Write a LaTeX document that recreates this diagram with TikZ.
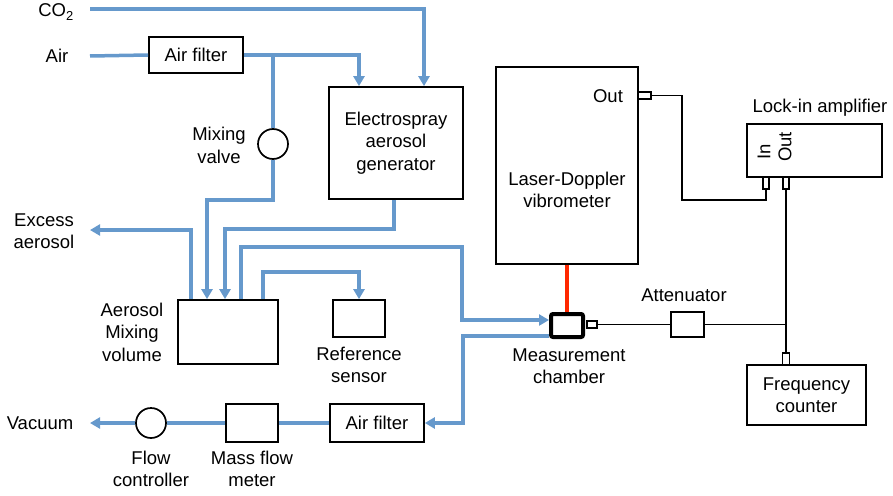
\documentclass[tikz,border=0pt]{standalone}
\usepackage{fontspec}
\setmainfont{Liberation Sans}
\usetikzlibrary{arrows.meta}
\definecolor{pipeblue}{RGB}{102,153,204}
\definecolor{laserred}{RGB}{255,40,0}
\tikzset{
  box/.style={draw, line width=1.7pt, inner sep=0pt, align=center},
  lbl/.style={align=center, inner sep=0pt},
  valve/.style={draw, circle, line width=1.7pt, minimum size=30pt, inner sep=0pt},
  port/.style={draw, line width=1.2pt, fill=white, inner sep=0pt},
  pipe/.style={pipeblue, line width=3.5pt},
  flow/.style={pipe, -{Triangle[length=10pt,width=11pt]}},
  sig/.style={line width=1.6pt},
  laser/.style={laserred, line width=3.5pt}
}
\begin{document}
\begin{tikzpicture}[x=1pt,y=-1pt,font=\fontsize{18.5}{22.5}\selectfont]
  \useasboundingbox (0,0) rectangle (893,495);
  % gas side
  \node[lbl] (co2) at (56,12) {CO\textsubscript{2}};
  \coordinate (co2src) at (90,9);
  \node[lbl] (air) at (57,56) {Air};
  \coordinate (airsrc) at (90,56);
  \node[box, minimum width=94pt, minimum height=36pt] (filtin) at (196,55) {Air filter};
  \node[box, minimum width=134pt, minimum height=112pt] (esg) at (396,143) {Electrospray\\aerosol\\generator};
  \node[valve] (mixv) at (273,144) {};
  \node[lbl] (mixvlbl) at (219,145.5) {Mixing\\valve};
  \node[box, minimum width=100pt, minimum height=64pt] (mixvol) at (228,332) {};
  \node[lbl] (mixvollbl) at (132,332) {Aerosol\\Mixing\\volume};
  \node[box, minimum width=52pt, minimum height=37pt] (refs) at (359,318.5) {};
  \node[lbl] (refslbl) at (359,365) {Reference\\sensor};
  \coordinate (excess) at (90,230);
  \node[lbl] (excesslbl) at (44,231) {Excess\\aerosol};
  \node[draw, line width=4pt, rounded corners=2pt, minimum width=32pt, minimum height=23pt, inner sep=0pt] (chamb) at (567,325.5) {};
  \node[lbl] (chamblbl) at (569,366) {Measurement\\chamber};
  \node[box, minimum width=94pt, minimum height=38pt] (filtout) at (377,423) {Air filter};
  \node[box, minimum width=52pt, minimum height=38pt] (mfm) at (252,423) {};
  \node[lbl] (mfmlbl) at (252,469) {Mass flow\\meter};
  \node[valve] (fc) at (151,423) {};
  \node[lbl] (fclbl) at (151,469) {Flow\\controller};
  \coordinate (vac) at (90,423);
  \node[lbl] (vaclbl) at (40,423) {Vacuum};
  \coordinate (bendA) at (462,247);
  % pipes
  \draw[flow] (co2src) -| ([xshift=28pt]esg.north);
  \draw[pipe] (airsrc) -- (filtin.west);
  \draw[flow] (filtin.east) -| ([xshift=-37pt]esg.north);
  \draw[pipe] (filtin.east -| mixv.north) -- (mixv.north);
  \draw[flow] (mixv.south) -- ++(0,40) -| ([xshift=-21pt]mixvol.north);
  \draw[flow] ([xshift=-2pt]esg.south) -- ++(0,29) -| ([xshift=-3pt]mixvol.north);
  \draw[flow] ([xshift=-37pt]mixvol.north) |- (excess);
  \draw[flow] ([xshift=13pt]mixvol.north) |- (bendA) |- ([yshift=5.5pt]chamb.west);
  \draw[flow] ([xshift=35pt]mixvol.north) -- ++(0,-27) -| (refs.north);
  \draw[flow] ([yshift=-10.5pt]chamb.west) -| ([xshift=38pt]filtout.east) -- (filtout.east);
  \draw[pipe] (filtout.west) -- (mfm.east);
  \draw[pipe] (mfm.west) -- (fc.east);
  \draw[flow] (fc.west) -- (vac);
  % optics and electronics
  \node[box, minimum width=142pt, minimum height=197pt] (ldv) at (567,165.5) {};
  \node[lbl] (ldvlbl) at (567,190) {Laser-Doppler\\vibrometer};
  \node[lbl] (ldvoutlbl) at (608,96) {Out};
  \node[port, minimum width=13pt, minimum height=7pt] (ldvport) at (644.5,95.5) {};
  \node[box, minimum width=135pt, minimum height=53pt] (lockin) at (814.5,150.5) {};
  \node[lbl] (lockinlbl) at (820,108) {Lock-in amplifier};
  \node[lbl, rotate=90] (inlbl) at (764,152) {In};
  \node[lbl, rotate=90] (outlbl) at (785,147) {Out};
  \node[port, minimum width=6pt, minimum height=12pt] (inport) at (766,183) {};
  \node[port, minimum width=6pt, minimum height=12pt] (outport) at (786,183) {};
  \node[box, minimum width=33pt, minimum height=25pt] (atten) at (687.5,324.5) {};
  \node[lbl] (attenlbl) at (684,295) {Attenuator};
  \node[box, minimum width=119pt, minimum height=60pt] (fcount) at (806.5,395) {Frequency\\counter};
  \node[port, minimum width=7pt, minimum height=12pt] (fcport) at (786,359) {};
  \node[port, minimum width=10pt, minimum height=7pt] (chport) at (592,324.5) {};
  \coordinate (junc) at (786,324.5);
  \coordinate (bendC) at (682,200);
  \draw[laser] (ldv.south) -- (chamb.north);
  \draw[sig] (ldvport.east) -| (bendC) -| (inport.south);
  \draw[sig] (chport.east) -- (atten.west);
  \draw[sig] (atten.east) -- (junc);
  \draw[sig] (outport.south) -- (fcport.north);
\end{tikzpicture}
\end{document}
